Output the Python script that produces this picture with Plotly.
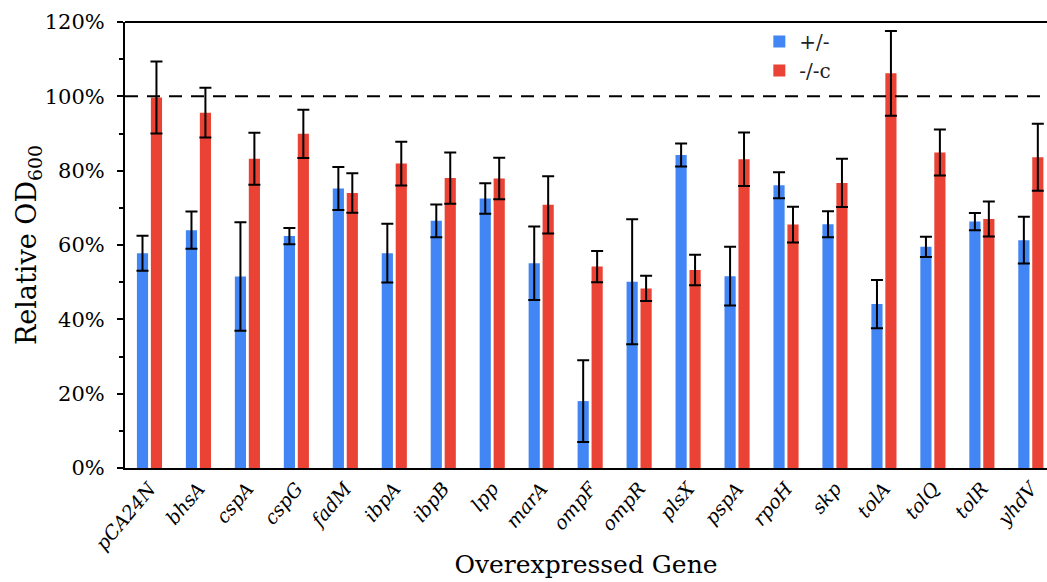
import plotly.graph_objects as go

genes = ["pCA24N", "bhsA", "cspA", "cspG", "fadM", "ibpA", "ibpB", "lpp", "marA", "ompF",
         "ompR", "plsX", "pspA", "rpoH", "skp", "tolA", "tolQ", "tolR", "yhdV"]
het = [57.8, 64.0, 51.5, 62.4, 75.2, 57.8, 66.5, 72.5, 55.1, 18.0,
       50.1, 84.2, 51.6, 76.1, 65.6, 44.1, 59.5, 66.3, 61.3]
het_err = [4.7, 5.0, 14.6, 2.2, 5.8, 7.9, 4.4, 4.1, 9.9, 11.0,
           16.8, 3.1, 7.9, 3.5, 3.5, 6.5, 2.7, 2.3, 6.3]
comp = [99.7, 95.6, 83.2, 89.9, 74.0, 81.9, 78.0, 77.9, 70.8, 54.2,
        48.3, 53.3, 83.1, 65.5, 76.7, 106.2, 84.9, 67.0, 83.6]
comp_err = [9.7, 6.7, 7.0, 6.5, 5.3, 5.9, 6.9, 5.6, 7.7, 4.2,
            3.4, 4.1, 7.2, 4.8, 6.5, 11.4, 6.2, 4.7, 9.0]
y_ticks = [0, 20, 40, 60, 80, 100, 120]
y_ticklabels = [f"{v}%" for v in y_ticks]

FONT = "DejaVu Serif"
x = list(range(len(genes)))

fig = go.Figure()
fig.add_trace(go.Bar(x=x, y=het, name="+/-", marker=dict(color="#4285F4", line=dict(width=0)),
                     error_y=dict(type="data", array=het_err, visible=True, color="black",
                                  thickness=2, width=6)))
fig.add_trace(go.Bar(x=x, y=comp, name="-/-c", marker=dict(color="#EA4335", line=dict(width=0)),
                     error_y=dict(type="data", array=comp_err, visible=True, color="black",
                                  thickness=2, width=6)))

fig.add_shape(type="line", xref="paper", yref="y", x0=0, x1=1, y0=100, y1=100,
              line=dict(color="black", width=2, dash="13px,9px"))

fig.update_layout(
    width=1047, height=582,
    margin=dict(l=125, r=0, t=22, b=114),
    paper_bgcolor="white", plot_bgcolor="white",
    barmode="group", bargap=0.43, bargroupgap=0.2,
    font=dict(family=FONT, color="black"),
    showlegend=True,
    legend=dict(x=0.688, y=1.0, xanchor="left", yanchor="top",
                font=dict(family=FONT, size=20, color="#222"),
                bgcolor="rgba(0,0,0,0)", itemwidth=30, tracegroupgap=12),
    xaxis=dict(
        tickmode="array", tickvals=x, ticktext=[f"<i>{g}</i>" for g in genes],
        tickangle=-50, tickfont=dict(family=FONT, size=19, color="black"),
        range=[-0.5, 18.33], showline=True, linecolor="black", linewidth=2,
        ticks="", showgrid=False, zeroline=False, mirror=False,
        title=dict(text="Overexpressed Gene", font=dict(family=FONT, size=25, color="black"),
                   standoff=2),
    ),
    yaxis=dict(
        range=[0, 120], tickmode="array", tickvals=y_ticks, ticktext=y_ticklabels,
        tickfont=dict(family=FONT, size=21, color="black"),
        ticklabelstandoff=8,
        showline=True, linecolor="black", linewidth=2, mirror=False,
        ticks="outside", ticklen=6, tickwidth=2, tickcolor="black",
        minor=dict(dtick=10, ticks="outside", ticklen=4, tickwidth=2, tickcolor="black"),
        showgrid=False, zeroline=False,
        title=dict(text="Relative OD<sub>600</sub>", font=dict(family=FONT, size=27, color="black"),
                   standoff=0),
    ),
)
fig.add_shape(type="line", xref="paper", yref="paper", x0=0, x1=1, y0=1, y1=1,
              line=dict(color="black", width=2))

fig.write_html("out.html")
